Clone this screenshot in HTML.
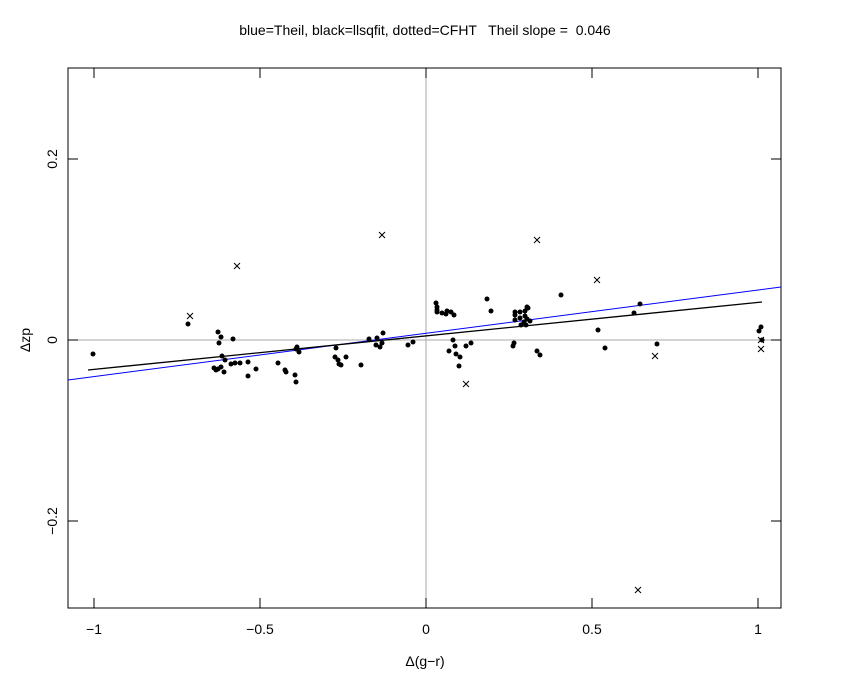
<!DOCTYPE html><html><head><style>body{margin:0;background:#fff}svg{display:block}text{font-family:"Liberation Sans",sans-serif;font-size:14px;fill:#000;white-space:pre}</style></head><body>
<svg width="850" height="680" xmlns="http://www.w3.org/2000/svg">
<text x="425" y="35" text-anchor="middle" xml:space="preserve">blue=Theil, black=llsqfit, dotted=CFHT   Theil slope =  0.046</text>
<line x1="426" y1="68" x2="426" y2="608" stroke="#aaa"/>
<line x1="68" y1="340" x2="781" y2="340" stroke="#aaa"/>
<rect x="68" y="68" width="713" height="540" fill="none" stroke="#000"/>
<g stroke="#000">
<line x1="94" y1="608" x2="94" y2="598"/><line x1="260" y1="608" x2="260" y2="598"/><line x1="426" y1="608" x2="426" y2="598"/><line x1="592" y1="608" x2="592" y2="598"/><line x1="758" y1="608" x2="758" y2="598"/>
<line x1="94" y1="68" x2="94" y2="78"/><line x1="260" y1="68" x2="260" y2="78"/><line x1="426" y1="68" x2="426" y2="78"/><line x1="592" y1="68" x2="592" y2="78"/><line x1="758" y1="68" x2="758" y2="78"/>
<line x1="68" y1="159" x2="78" y2="159"/><line x1="68" y1="340" x2="78" y2="340"/><line x1="68" y1="521" x2="78" y2="521"/>
<line x1="781" y1="159" x2="771" y2="159"/><line x1="781" y1="340" x2="771" y2="340"/><line x1="781" y1="521" x2="771" y2="521"/>
</g>
<text x="94" y="634" text-anchor="middle">−1</text><text x="260" y="634" text-anchor="middle">−0.5</text><text x="426" y="634" text-anchor="middle">0</text><text x="592" y="634" text-anchor="middle">0.5</text><text x="758" y="634" text-anchor="middle">1</text>
<text transform="translate(57,159) rotate(-90)" text-anchor="middle">0.2</text>
<text transform="translate(57,340) rotate(-90)" text-anchor="middle">0</text>
<text transform="translate(57,521) rotate(-90)" text-anchor="middle">−0.2</text>
<text x="425" y="666" text-anchor="middle">Δ(g−r)</text>
<text transform="translate(30,340) rotate(-90)" text-anchor="middle">Δzp</text>
<line x1="68" y1="380" x2="781" y2="287" stroke="#00f"/>
<line x1="88" y1="370" x2="762" y2="302" stroke="#000" stroke-width="1.3"/>
<g fill="#000">
<circle cx="93" cy="354" r="2.5"/><circle cx="188" cy="324" r="2.5"/><circle cx="218" cy="332" r="2.5"/><circle cx="221" cy="337" r="2.5"/><circle cx="219" cy="343" r="2.5"/><circle cx="233" cy="339" r="2.5"/><circle cx="222" cy="356" r="2.5"/><circle cx="225" cy="360" r="2.5"/><circle cx="214" cy="368" r="2.5"/><circle cx="218" cy="369" r="2.5"/><circle cx="221" cy="367" r="2.5"/><circle cx="216" cy="370" r="2.5"/><circle cx="224" cy="372" r="2.5"/><circle cx="231" cy="364" r="2.5"/><circle cx="235" cy="363" r="2.5"/><circle cx="240" cy="363" r="2.5"/><circle cx="248" cy="362" r="2.5"/><circle cx="248" cy="376" r="2.5"/><circle cx="256" cy="369" r="2.5"/><circle cx="278" cy="363" r="2.5"/><circle cx="286" cy="372" r="2.5"/><circle cx="285" cy="370" r="2.5"/><circle cx="296" cy="349" r="2.5"/><circle cx="297" cy="347" r="2.5"/><circle cx="299" cy="352" r="2.5"/><circle cx="295" cy="375" r="2.5"/><circle cx="296" cy="382" r="2.5"/><circle cx="336" cy="348" r="2.5"/><circle cx="335" cy="357" r="2.5"/><circle cx="338" cy="360" r="2.5"/><circle cx="339" cy="364" r="2.5"/><circle cx="341" cy="365" r="2.5"/><circle cx="346" cy="357" r="2.5"/><circle cx="361" cy="365" r="2.5"/><circle cx="369" cy="339" r="2.5"/><circle cx="377" cy="338" r="2.5"/><circle cx="383" cy="333" r="2.5"/><circle cx="376" cy="345" r="2.5"/><circle cx="380" cy="347" r="2.5"/><circle cx="382" cy="343" r="2.5"/><circle cx="408" cy="345" r="2.5"/><circle cx="413" cy="342" r="2.5"/><circle cx="437" cy="307" r="2.5"/><circle cx="437" cy="312" r="2.5"/>
<circle cx="436" cy="303" r="2.5"/><circle cx="437" cy="310" r="2.5"/><circle cx="446" cy="314" r="2.5"/><circle cx="451" cy="312" r="2.5"/><circle cx="454" cy="315" r="2.5"/><circle cx="447" cy="311" r="2.5"/><circle cx="442" cy="313" r="2.5"/><circle cx="487" cy="299" r="2.5"/><circle cx="491" cy="311" r="2.5"/><circle cx="455" cy="346" r="2.5"/><circle cx="453" cy="340" r="2.5"/><circle cx="449" cy="351" r="2.5"/><circle cx="456" cy="354" r="2.5"/><circle cx="460" cy="357" r="2.5"/><circle cx="459" cy="366" r="2.5"/><circle cx="471" cy="343" r="2.5"/><circle cx="466" cy="346" r="2.5"/><circle cx="514" cy="343" r="2.5"/><circle cx="513" cy="346" r="2.5"/><circle cx="537" cy="351" r="2.5"/><circle cx="540" cy="355" r="2.5"/><circle cx="515" cy="315" r="2.5"/><circle cx="515" cy="312" r="2.5"/><circle cx="520" cy="312" r="2.5"/><circle cx="515" cy="320" r="2.5"/><circle cx="520" cy="318" r="2.5"/><circle cx="525" cy="311" r="2.5"/><circle cx="527" cy="307" r="2.5"/><circle cx="528" cy="308" r="2.5"/><circle cx="525" cy="316" r="2.5"/><circle cx="527" cy="319" r="2.5"/><circle cx="524" cy="322" r="2.5"/><circle cx="526" cy="325" r="2.5"/><circle cx="530" cy="321" r="2.5"/><circle cx="521" cy="325" r="2.5"/><circle cx="561" cy="295" r="2.5"/><circle cx="598" cy="330" r="2.5"/><circle cx="605" cy="348" r="2.5"/><circle cx="634" cy="313" r="2.5"/><circle cx="640" cy="304" r="2.5"/><circle cx="657" cy="344" r="2.5"/><circle cx="759" cy="331" r="2.5"/><circle cx="761" cy="327" r="2.5"/><circle cx="762" cy="340" r="2.5"/>
</g>
<g stroke="#000" stroke-width="1">
<path d="M234 263l6 6M240 263l-6 6"/><path d="M187 313l6 6M193 313l-6 6"/><path d="M379 232l6 6M385 232l-6 6"/><path d="M534 237l6 6M540 237l-6 6"/><path d="M594 277l6 6M600 277l-6 6"/><path d="M463 381l6 6M469 381l-6 6"/><path d="M652 353l6 6M658 353l-6 6"/><path d="M758 337l6 6M764 337l-6 6"/><path d="M758 346l6 6M764 346l-6 6"/><path d="M635 587l6 6M641 587l-6 6"/>
</g>
</svg></body></html>
